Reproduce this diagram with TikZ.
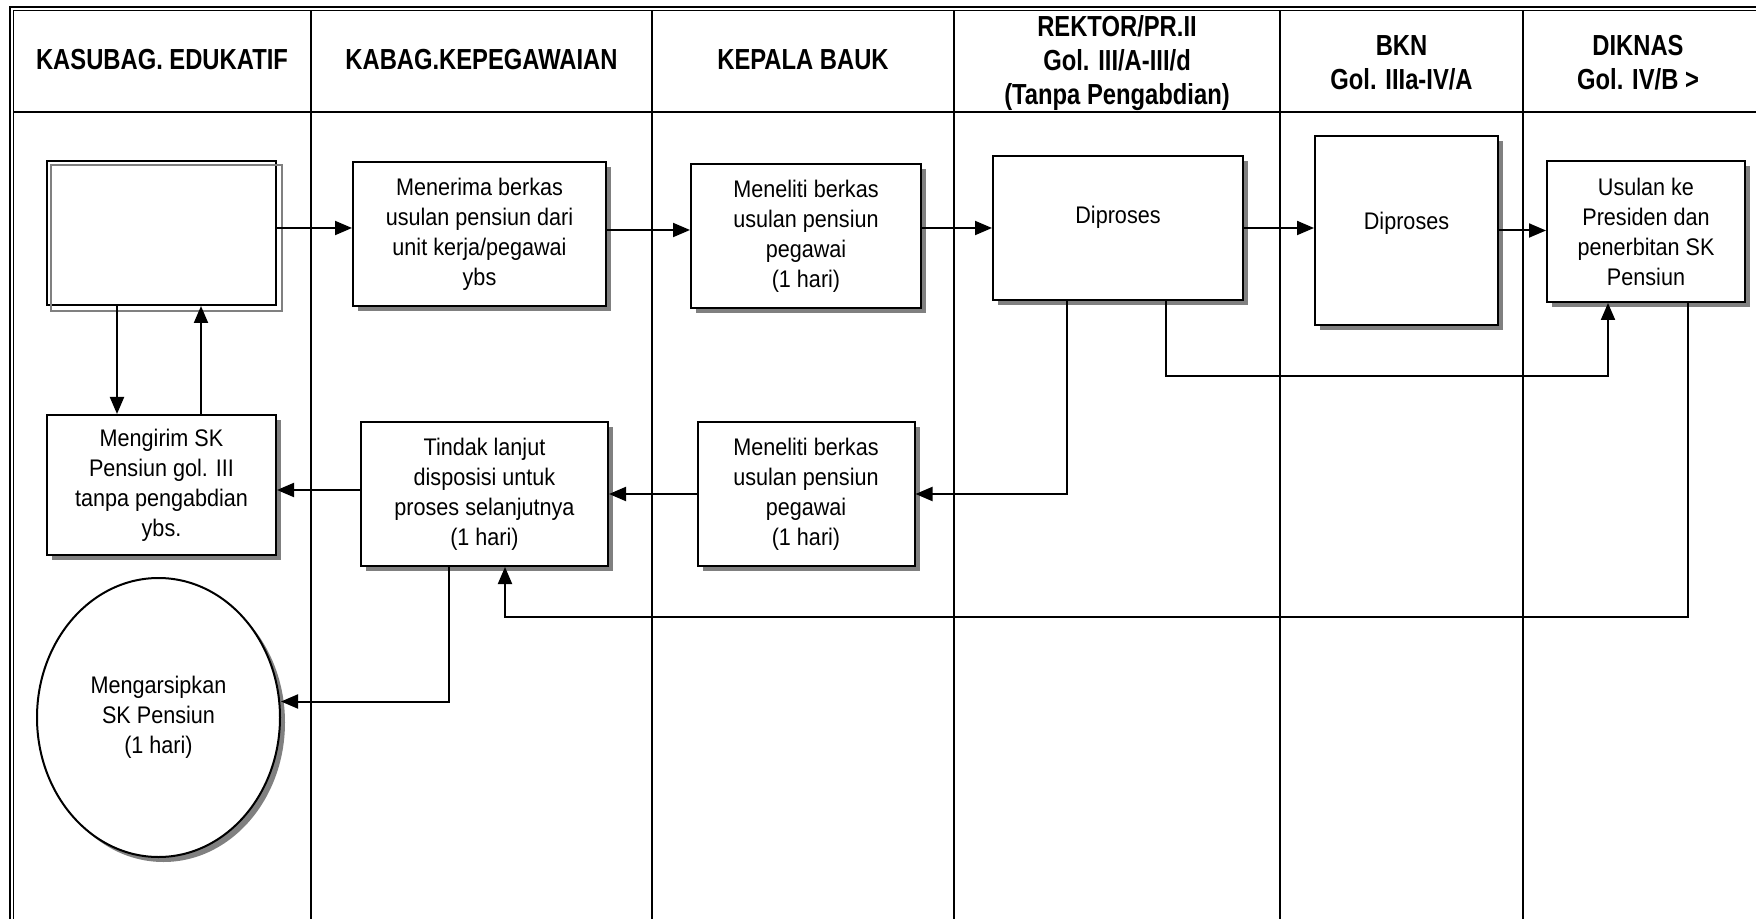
\documentclass[tikz,border=0pt]{standalone}
\usepackage{fontspec}
\setmainfont{Liberation Sans}[FakeStretch=0.9]
\newfontfamily\headfont{Liberation Sans}[FakeStretch=0.82]
\usetikzlibrary{arrows.meta,shadows,shapes.geometric}

\begin{document}
\begin{tikzpicture}[x=0.5pt,y=-0.5pt,
  frameline/.style={line width=0.85pt},
  laneline/.style={line width=0.8pt},
  head/.style={font=\headfont\bfseries\fontsize{14.5}{17}\selectfont,
    align=center, inner sep=0pt},
  bodytext/.style={font=\fontsize{12}{15}\selectfont, inner sep=0pt},
  shade/.style={drop shadow={shadow xshift=2.5pt, shadow yshift=-2.5pt,
    shadow scale=1, fill=gray, opacity=1}},
  proc/.style={draw, line width=1pt, fill=white, rectangle, align=center,
    inner sep=0pt, font=\fontsize{12}{15}\selectfont, shade},
  arr/.style={line width=1pt, -{Triangle[length=8.5pt,width=7pt]}},
]
\clip (0,0) rectangle (1756,919);
\fill[white] (0,0) rectangle (1756,919);

% outer double frame and swimlanes
\draw[frameline] (10,7) rectangle (1800,1000);
\draw[frameline] (13.5,10.5) rectangle (1800,1000);
\draw[line width=1pt] (13.5,112) -- (1800,112);
\foreach \x in {311,652,954,1280,1523}
  \draw[laneline] (\x,10.5) -- (\x,1000);

% lane headings
\node[head] (h1) at (162,60) {KASUBAG. EDUKATIF};
\node[head] (h2) at (481.5,60) {KABAG.KEPEGAWAIAN};
\node[head] (h3) at (803,60) {KEPALA BAUK};
\node[head] (h4) at (1117,63) {REKTOR/PR.II\\Gol. III/A-III/d\\(Tanpa Pengabdian)};
\node[head] (h5) at (1401.5,63) {BKN\\Gol. IIIa-IV/A};
\node[head] (h6) at (1638,63) {DIKNAS\\Gol. IV/B >};

% process steps
\node[draw, line width=1pt, minimum width=114.5pt, minimum height=72pt,
  inner sep=0pt] (A) at (161.5,233) {};
\draw[gray, line width=0.9pt] ([shift={(5,5)}]A.north west) rectangle ([shift={(5,5)}]A.south east);

\node[proc, minimum width=126.5pt, minimum height=72pt] (B) at (479.5,234)
  {Menerima berkas\\usulan pensiun dari\\unit kerja/pegawai\\ybs};
\node[proc, minimum width=115pt, minimum height=72pt] (C) at (806,236)
  {Meneliti berkas\\usulan pensiun\\pegawai\\(1 hari)};
\node[proc, minimum width=125pt, minimum height=72pt] (D) at (1118,228) {};
\node[bodytext] (Dt) at ([yshift=-31pt]D.north) {Diproses};
\node[proc, minimum width=91.5pt, minimum height=94.5pt] (E) at (1406.5,230.5) {};
\node[bodytext] (Et) at ([yshift=3.75pt]E.center) {Diproses};
\node[proc, minimum width=99pt, minimum height=70.5pt] (F) at (1646,231.5)
  {Usulan ke\\Presiden dan\\penerbitan SK\\Pensiun};
\node[proc, minimum width=114.5pt, minimum height=70pt] (G) at (161.5,485)
  {Mengirim SK\\Pensiun gol. III\\tanpa pengabdian\\ybs.};
\node[proc, minimum width=123.5pt, minimum height=72pt] (H) at (484.5,494)
  {Tindak lanjut\\disposisi untuk\\proses selanjutnya\\(1 hari)};
\node[proc, minimum width=108.5pt, minimum height=72pt] (I) at (806,494)
  {Meneliti berkas\\usulan pensiun\\pegawai\\(1 hari)};
\node[proc, ellipse, minimum width=121.5pt, minimum height=139.5pt] (J) at (158.5,717.5)
  {Mengarsipkan\\SK Pensiun\\(1 hari)};

% flow
\draw[arr] ([yshift=2.5pt]A.east) -- ([yshift=2.5pt]A.east -| B.west);
\draw[arr] ([yshift=2pt]B.east) -- ([yshift=2pt]B.east -| C.west);
\draw[arr] ([yshift=4pt]C.east) -- ([yshift=4pt]C.east -| D.west);
\draw[arr] (D.east) -- (D.east -| E.west);
\draw[arr] (E.east) -- (E.east -| F.west);
\draw[arr] ([xshift=24pt]D.south) -- ++(0,75) -| ([xshift=-19pt]F.south);
\draw[arr] ([xshift=-25.5pt]D.south) |- (I.east);
\draw[arr] ([xshift=21pt]F.south) -- ++(0,314) -| ([xshift=10.25pt]H.south);
\draw[arr] (I.west) -- (I.west -| H.east);
\draw[arr] ([yshift=2pt]H.west) -- ([yshift=2pt]H.west -| G.east);
\draw[arr] ([xshift=-17.75pt]H.south) |- ([yshift=8pt]J.east);
\draw[arr] ([xshift=-22.25pt]A.south) -- ([xshift=-22.25pt]A.south |- G.north);
\draw[arr] ([xshift=19.75pt]G.north) -- ([xshift=19.75pt]G.north |- A.south);
\end{tikzpicture}
\end{document}
